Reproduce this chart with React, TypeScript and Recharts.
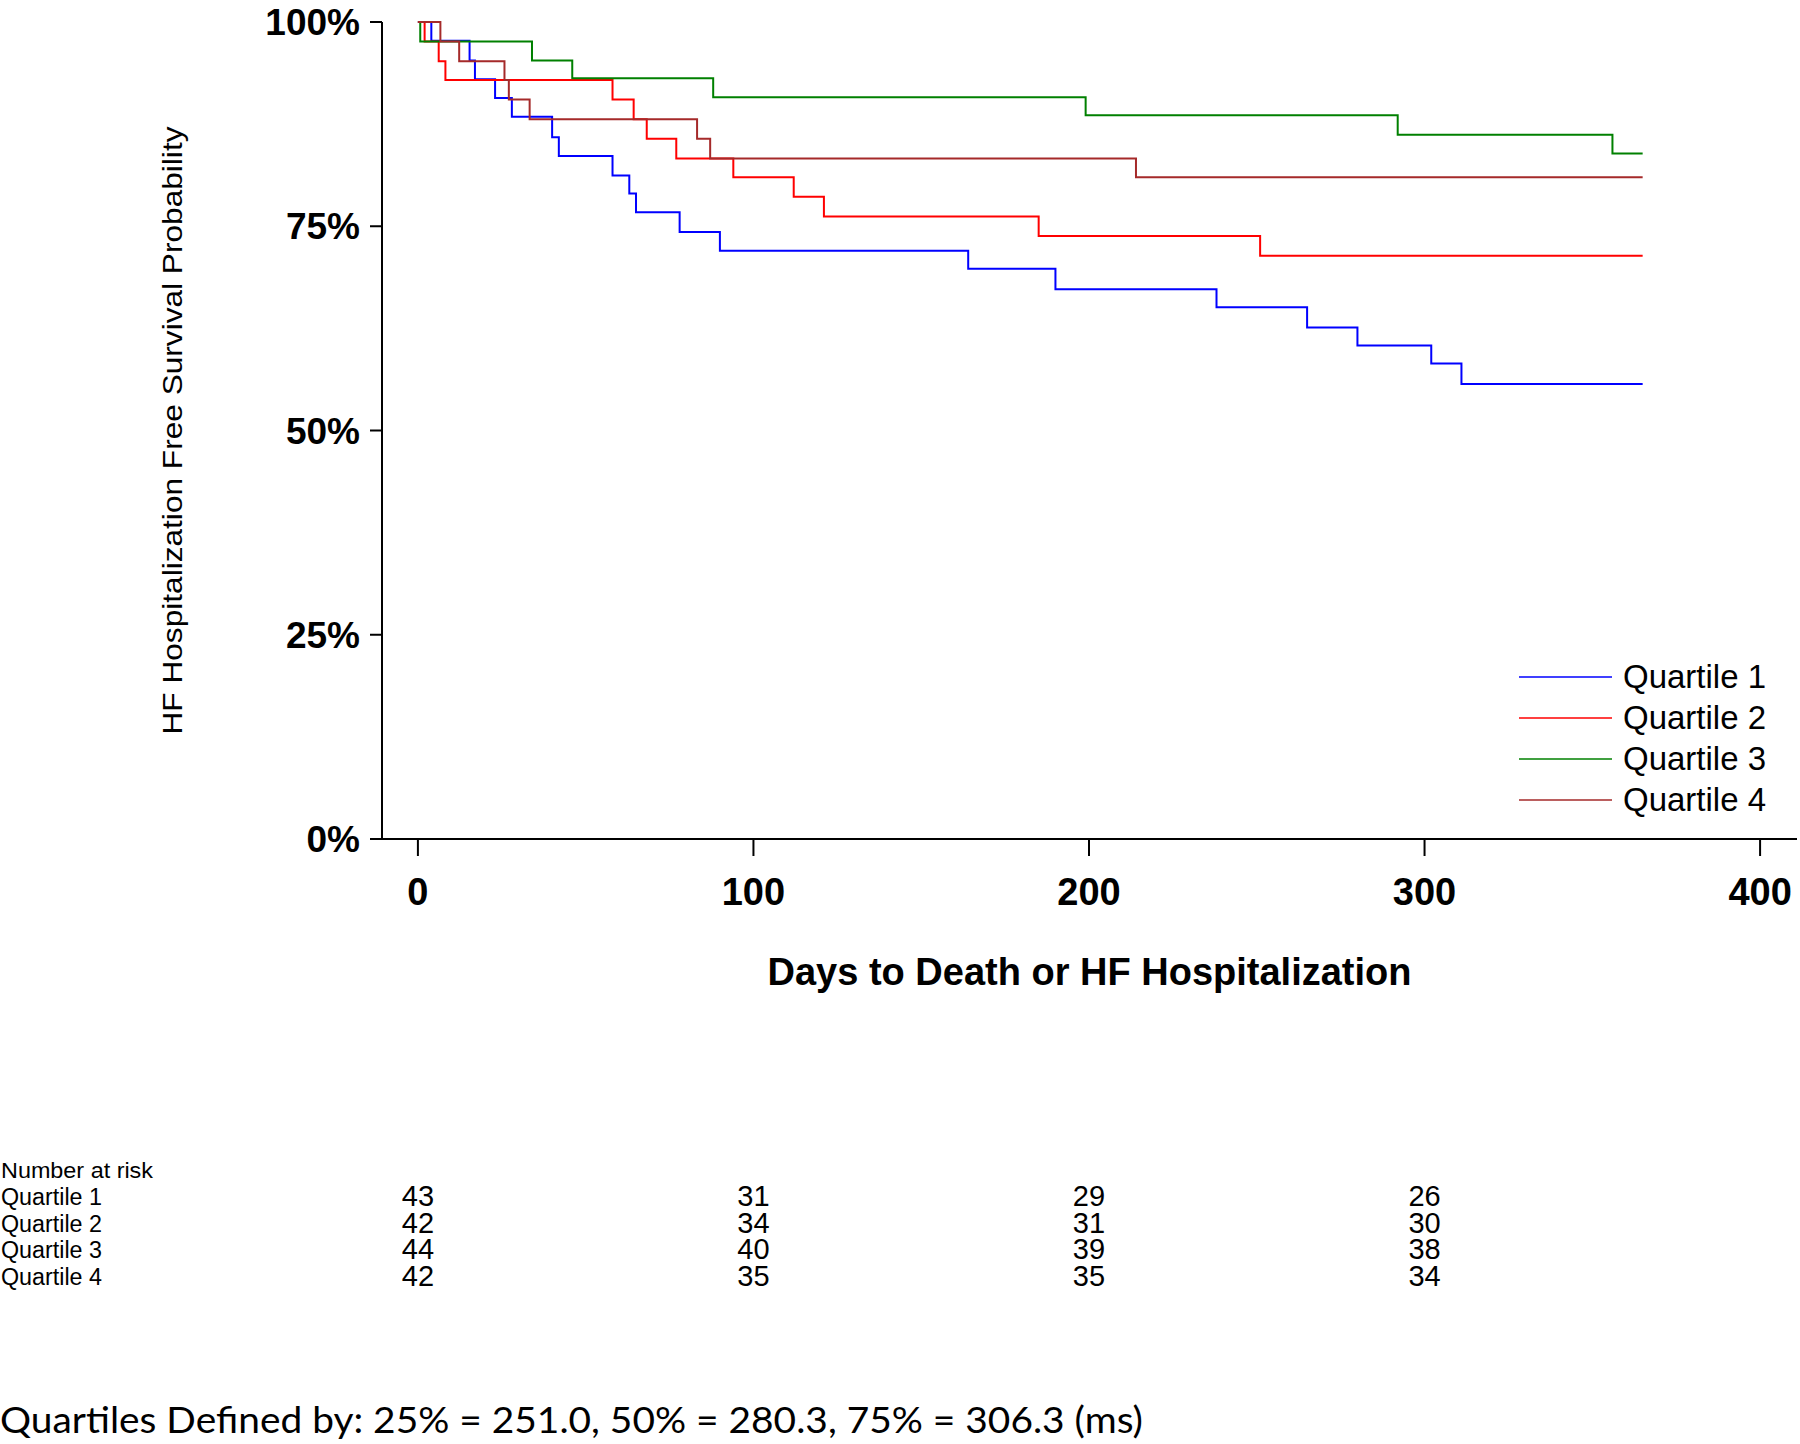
import { LineChart, Line, XAxis, YAxis, Legend, Label } from 'recharts';

// Kaplan-Meier steps (days, survival %)
const q1Days = [0, 4, 15.4, 17, 23, 28, 40, 42, 58, 63, 65, 78, 90, 164, 190, 238, 265, 280, 302, 311, 365];
const q1Surv = [100, 97.7, 95.3, 93.0, 90.7, 88.4, 85.9, 83.6, 81.2, 79.0, 76.7, 74.3, 72.0, 69.8, 67.3, 65.1, 62.6, 60.4, 58.2, 55.7, 55.7];

const q2Days = [0, 2, 6.2, 8.2, 58, 64.3, 68.2, 77, 94, 112, 121, 185, 251, 365];
const q2Surv = [100, 97.6, 95.2, 92.9, 90.5, 88.1, 85.7, 83.3, 81.0, 78.6, 76.2, 73.8, 71.4, 71.4];

const q3Days = [0, 0.7, 34, 46, 88, 199, 292, 356, 365];
const q3Surv = [100, 97.6, 95.3, 93.1, 90.8, 88.6, 86.2, 83.9, 83.9];

const q4Days = [0, 6.7, 12.3, 25.8, 27.1, 33.3, 83.2, 87.1, 214, 365];
const q4Surv = [100, 97.6, 95.2, 92.9, 90.5, 88.1, 85.7, 83.3, 81.0, 81.0];

const seriesNames = ['Quartile 1', 'Quartile 2', 'Quartile 3', 'Quartile 4'];
const seriesColors = ['#0000ff', '#ff0000', '#008000', '#a52a2a'];

const dayTicks = [0, 100, 200, 300, 400];
const pctTicks = [0, 25, 50, 75, 100];

// number at risk table
const riskDays = [0, 100, 200, 300];
const riskQ1 = [43, 31, 29, 26];
const riskQ2 = [42, 34, 31, 30];
const riskQ3 = [44, 40, 39, 38];
const riskQ4 = [42, 35, 35, 34];

const footnote = 'Quartiles Defined by: 25% = 251.0, 50% = 280.3, 75% = 306.3 (ms)';

const W = 1800;
const H = 1444;
const X_DOMAIN: [number, number] = [-10.7, 411];
const PLOT_LEFT = 382;
const PLOT_RIGHT = 1797;
const FONT = "'Liberation Sans', Arial, sans-serif";

const toPoints = (days: number[], surv: number[]) => days.map((d, i) => ({ day: d, surv: surv[i] }));

const series = [
  toPoints(q1Days, q1Surv),
  toPoints(q2Days, q2Surv),
  toPoints(q3Days, q3Surv),
  toPoints(q4Days, q4Surv),
];

const dayToX = (d: number) => PLOT_LEFT + ((d - X_DOMAIN[0]) / (X_DOMAIN[1] - X_DOMAIN[0])) * (PLOT_RIGHT - PLOT_LEFT);

const LegendBox = (props: any) => {
  const payload = props.payload || [];
  return (
    <div style={{ fontFamily: FONT }}>
      {payload.map((p: any) => (
        <div key={p.value} style={{ display: 'flex', alignItems: 'center', height: 41 }}>
          <svg width={93} height={4} style={{ display: 'block' }}>
            <line x1={0} y1={2} x2={93} y2={2} stroke={p.color} strokeWidth={1.6} />
          </svg>
          <span style={{ marginLeft: 11, fontSize: 33, lineHeight: '41px', color: '#000' }}>{p.value}</span>
        </div>
      ))}
    </div>
  );
};

const XTitle = (props: any) => {
  const vb = props.viewBox || { x: PLOT_LEFT, y: 839, width: PLOT_RIGHT - PLOT_LEFT };
  return (
    <text x={vb.x + vb.width / 2} y={vb.y + 146} textAnchor="middle" fontFamily={FONT} fontSize={38} fontWeight="bold" fill="#000">
      Days to Death or HF Hospitalization
    </text>
  );
};

const YTitle = (props: any) => {
  const vb = props.viewBox || { x: 0, y: 22, height: 817 };
  const cx = vb.x + 182;
  const cy = vb.y + vb.height / 2;
  return (
    <text
      x={cx}
      y={cy}
      transform={`rotate(-90, ${cx}, ${cy})`}
      textAnchor="middle"
      fontFamily={FONT}
      fontSize={28}
      textLength={608}
      lengthAdjust="spacingAndGlyphs"
      fill="#000"
    >
      HF Hospitalization Free Survival Probability
    </text>
  );
};

const riskRows = [riskQ1, riskQ2, riskQ3, riskQ4];

export default function App() {
  return (
    <div style={{ position: 'absolute', left: 0, top: 0, width: W, height: H, background: '#fff' }}>
      <LineChart width={W} height={H} margin={{ top: 22, right: 3, left: 0, bottom: 445 }} style={{ fontFamily: FONT }}>
        <XAxis
          dataKey="day"
          type="number"
          domain={X_DOMAIN}
          ticks={dayTicks}
          height={160}
          tickSize={17}
          tickMargin={22}
          axisLine={{ stroke: '#000', strokeWidth: 2 }}
          tickLine={{ stroke: '#000', strokeWidth: 2 }}
          tick={{ fill: '#000', fontSize: 38, fontWeight: 'bold', fontFamily: FONT }}
          allowDataOverflow
        >
          <Label content={<XTitle />} />
        </XAxis>
        <XAxis
          xAxisId="top"
          orientation="top"
          type="number"
          domain={X_DOMAIN}
          height={0}
          tick={false}
          tickLine={false}
          axisLine={{ stroke: '#000', strokeWidth: 2 }}
        />
        <YAxis
          type="number"
          domain={[0, 100]}
          ticks={pctTicks}
          width={382}
          tickSize={12}
          tickMargin={10}
          tickFormatter={(v: number) => `${v}%`}
          axisLine={{ stroke: '#000', strokeWidth: 2 }}
          tickLine={{ stroke: '#000', strokeWidth: 2 }}
          tick={{ fill: '#000', fontSize: 37, fontWeight: 'bold', fontFamily: FONT }}
        >
          <Label content={<YTitle />} />
        </YAxis>
        <YAxis
          yAxisId="right"
          orientation="right"
          type="number"
          domain={[0, 100]}
          width={0}
          tick={false}
          tickLine={false}
          axisLine={{ stroke: '#000', strokeWidth: 2 }}
        />
        {series.map((data, i) => (
          <Line
            key={seriesNames[i]}
            data={data}
            dataKey="surv"
            name={seriesNames[i]}
            type="stepAfter"
            stroke={seriesColors[i]}
            strokeWidth={2}
            dot={false}
            activeDot={false}
            isAnimationActive={false}
          />
        ))}
        <Legend
          layout="vertical"
          align="center"
          verticalAlign="middle"
          content={<LegendBox />}
          wrapperStyle={{ left: 1519, top: 656, width: 'auto', height: 'auto' }}
        />
      </LineChart>
      <svg width={W} height={H} style={{ position: 'absolute', left: 0, top: 0, pointerEvents: 'none' }}>
        <text x={1} y={1178} fontFamily={FONT} fontSize={22} textLength={152} lengthAdjust="spacingAndGlyphs" fill="#000">Number at risk</text>
        {seriesNames.map((n, r) => (
          <text key={n} x={1} y={1205 + r * 26.7} fontFamily={FONT} fontSize={23} textLength={101} lengthAdjust="spacingAndGlyphs" fill="#000">{n}</text>
        ))}
        {riskRows.map((row, r) =>
          row.map((v, c) => (
            <text key={`${r}-${c}`} x={dayToX(riskDays[c])} y={1206 + r * 26.7} textAnchor="middle" fontFamily={FONT} fontSize={29} fill="#000">
              {v}
            </text>
          ))
        )}
        <text x={0} y={1433} fontFamily="Lato, 'Open Sans', sans-serif" fontSize={36} textLength={1143} lengthAdjust="spacingAndGlyphs" fill="#000">
          {footnote}
        </text>
      </svg>
    </div>
  );
}
